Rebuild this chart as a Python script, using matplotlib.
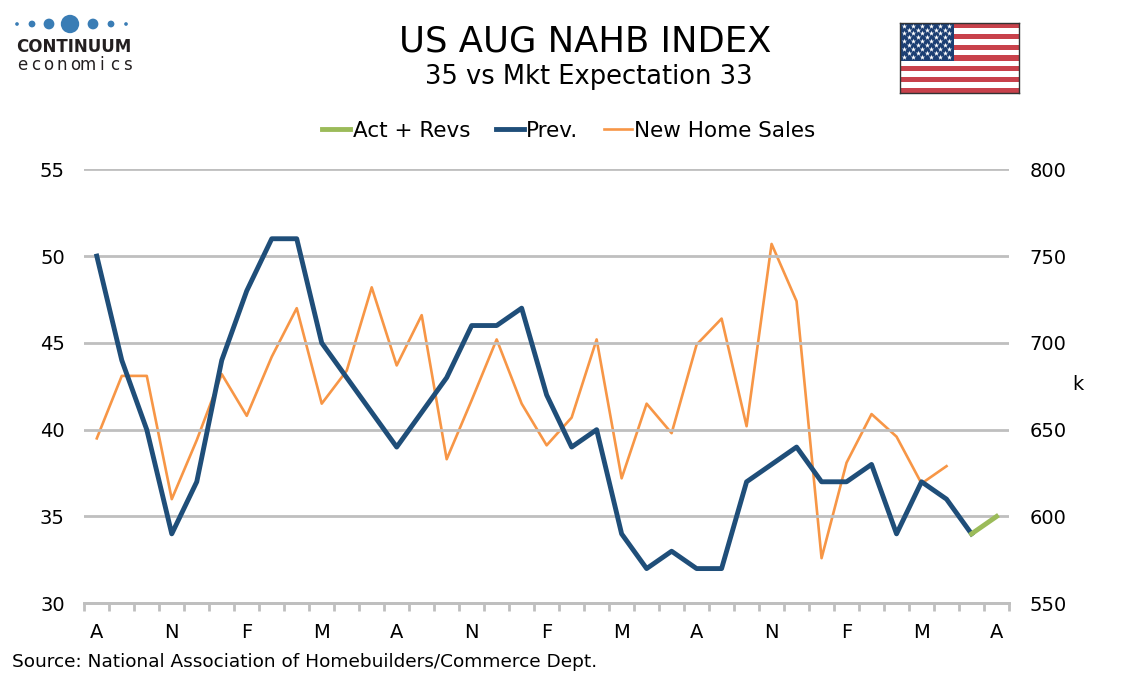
import numpy as np
import matplotlib
matplotlib.use("Agg")
import matplotlib.pyplot as plt
from matplotlib.patches import Rectangle

# monthly categories, Aug through Aug two years later
months = ["A", "S", "O", "N", "D", "J", "F", "M", "A", "M", "J", "J"] * 3 + ["A"]

prev = [50, 44, 40, 34, 37, 44, 48, 51, 51, 45, 43, 41,
        39, 41, 43, 46, 46, 47, 42, 39, 40, 34, 32, 33,
        32, 32, 37, 38, 39, 37, 37, 38, 34, 37, 36, 34, None]

act_revs = [None] * 35 + [34, 35]

new_home_sales = [645, 681, 681, 610, 644, 682, 658, 692, 720, 665, 684, 732,
                  687, 716, 633, 667, 702, 665, 641, 657, 702, 622, 665, 648,
                  699, 714, 652, 757, 724, 576, 631, 659, 646, 619, 629, None, None]

GREEN = "#9BBB59"
NAVY = "#1F4E79"
ORANGE = "#F79646"
GRID = "#BFBFBF"


def to_arr(vals):
    return np.array([np.nan if v is None else v for v in vals], dtype=float)


def draw_flag(fig):
    fax = fig.add_axes([900 / 1134, 1 - 93 / 680, 119 / 1134, 70 / 680])
    fax.set_xlim(0, 1)
    fax.set_ylim(0, 13)
    for i in range(13):
        c = "#C8414B" if i % 2 == 0 else "white"
        fax.add_patch(Rectangle((0, 12 - i), 1, 1, color=c, lw=0))
    fax.add_patch(Rectangle((0, 6), 0.45, 7, color="#1C3F73", lw=0))
    sx, sy = [], []
    for r in range(9):
        ncols = 6 if r % 2 == 0 else 5
        off = 0.0 if r % 2 == 0 else 0.5
        for c in range(ncols):
            sx.append(0.45 * (c + 0.5 + off) / 6)
            sy.append(12.5 - r * 0.72)
    fax.scatter(sx, sy, marker="*", s=16, color="white", lw=0)
    for s in fax.spines.values():
        s.set_color("#333333")
        s.set_linewidth(1.0)
    fax.set_xticks([])
    fax.set_yticks([])


def draw_logo(fig):
    lax = fig.add_axes([0, 1 - 40 / 680, 150 / 1134, 30 / 680])
    lax.set_xlim(0, 150)
    lax.set_ylim(40, 10)
    lax.axis("off")
    dx = [17, 32, 49, 70, 93, 111, 126]
    ds = [7, 24, 60, 175, 60, 24, 7]
    lax.scatter(dx, [24] * len(dx), s=ds, color="#3A7DB5", marker="o", lw=0)
    fig.text(16 / 1134, 1 - 47 / 680, "CONTINUUM", fontsize=12, fontweight="bold",
             color="#231F20", va="center", ha="left", family="DejaVu Sans Condensed")
    for i, ch in enumerate("economics"):
        fig.text((22 + i * 13.2) / 1134, 1 - 65 / 680, ch, fontsize=12,
                 color="#231F20", va="center", ha="center")


def main():
    fig = plt.figure(figsize=(11.34, 6.8), dpi=100)
    ax = fig.add_axes([84.3 / 1134, 1 - 603.3 / 680, (1009 - 84.3) / 1134, 434 / 680])
    ax2 = ax.twinx()

    x = np.arange(len(months))
    ax.plot(x, to_arr(act_revs), color=GREEN, lw=3.5, label="Act + Revs", zorder=4)
    ax.plot(x, to_arr(prev), color=NAVY, lw=3.5, label="Prev.", zorder=3)
    ax2.plot(x, to_arr(new_home_sales), color=ORANGE, lw=1.9, label="New Home Sales")

    ax.set_zorder(ax2.get_zorder() + 1)
    ax.patch.set_visible(False)

    ax.set_xlim(-0.5, len(months) - 0.5)
    ax.set_ylim(30, 55)
    ax2.set_ylim(550, 800)
    ax.set_yticks([30, 35, 40, 45, 50, 55])
    ax2.set_yticks([550, 600, 650, 700, 750, 800])

    ax.yaxis.grid(True, color=GRID, lw=2)
    ax.set_axisbelow(True)

    ax.set_xticks(x[::3])
    ax.set_xticklabels(months[::3])
    ax.set_xticks(np.arange(-0.5, len(months), 1), minor=True)
    ax.tick_params(axis="x", which="major", length=0, pad=14, labelsize=14)
    ax.tick_params(axis="x", which="minor", length=6, width=2, color=GRID)
    ax.tick_params(axis="y", length=0, pad=14, labelsize=14)
    ax2.tick_params(axis="y", which="both", length=0, pad=15, labelsize=14)

    for a in (ax, ax2):
        for side in ("top", "left", "right"):
            a.spines[side].set_visible(False)
        a.spines["bottom"].set_color(GRID)
        a.spines["bottom"].set_linewidth(2)

    fig.text(1078 / 1134, 1 - 385 / 680, "k", fontsize=14, ha="center", va="center")

    fig.text(585 / 1134, 1 - 42 / 680, "US AUG NAHB INDEX", fontsize=25.5,
             ha="center", va="center")
    fig.text(589 / 1134, 1 - 77 / 680, "35 vs Mkt Expectation 33", fontsize=18.5,
             ha="center", va="center")

    h1, l1 = ax.get_legend_handles_labels()
    h2, l2 = ax2.get_legend_handles_labels()
    fig.legend(h1 + h2, l1 + l2, loc="center", bbox_to_anchor=(569 / 1134, 1 - 131 / 680),
               ncol=3, frameon=False, fontsize=15.5, handlelength=1.3,
               handletextpad=0.1, columnspacing=1.2)

    fig.text(12 / 1134, 1 - 662 / 680,
             "Source: National Association of Homebuilders/Commerce Dept.",
             fontsize=13.3, ha="left", va="center")

    draw_logo(fig)
    draw_flag(fig)

    fig.savefig("out.png", dpi=100)
    plt.close(fig)


if __name__ == "__main__":
    main()
